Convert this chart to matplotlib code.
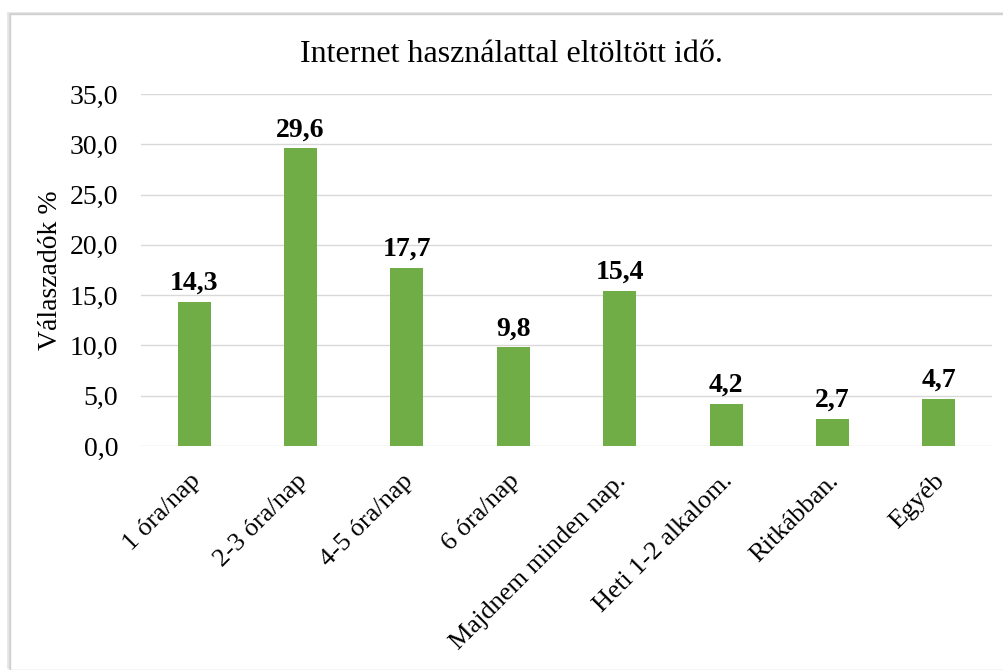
import matplotlib
matplotlib.use("Agg")
import matplotlib.pyplot as plt
from matplotlib.patches import Rectangle
from matplotlib.transforms import ScaledTranslation

categories = ["1 óra/nap", "2-3 óra/nap", "4-5 óra/nap", "6 óra/nap",
              "Majdnem minden nap.", "Heti 1-2 alkalom.", "Ritkábban.", "Egyéb"]
values = [14.3, 29.6, 17.7, 9.8, 15.4, 4.2, 2.7, 4.7]
title = "Internet használattal eltöltött idő."
ylabel = "Válaszadók %"
yticks = [0, 5, 10, 15, 20, 25, 30, 35]

plt.rcParams['font.family'] = ['Liberation Serif', 'DejaVu Serif']

fig = plt.figure(figsize=(10.04, 6.7), dpi=100)
# outer border with shadow
for i, a in enumerate([0.10, 0.07, 0.04]):
    fig.patches.append(Rectangle((8/1004 + i*0.002, 2/670), 1.0, 655/670 - i*0.002,
                                 transform=fig.transFigure, fill=False,
                                 edgecolor=(0, 0, 0, a), linewidth=2, zorder=-3))
fig.patches.append(Rectangle((10/1004, 0), 1.0, 656/670, transform=fig.transFigure,
                             facecolor='white', edgecolor='#d0d0d0', linewidth=1, zorder=-2))

ax = fig.add_axes([141/1004, 1 - 446/670, (992 - 141)/1004, (446 - 94)/670])
ax.set_zorder(1)
ax.patch.set_alpha(0)
x = range(len(categories))
ax.bar(x, values, width=0.31, color='#70AD47', zorder=3)
ax.set_xlim(-0.5, len(categories) - 0.5)
ax.set_ylim(0, 35)
ax.set_yticks(yticks)
ax.set_yticklabels([f"{v:.1f}".replace('.', ',') for v in yticks], fontsize=20)
ax.set_xticks(list(x))
ax.set_xticklabels(categories, rotation=45, ha='right', rotation_mode='anchor', fontsize=19)
ax.tick_params(axis='both', length=0, colors='#000000')
ax.tick_params(axis='y', pad=16.5)
ax.tick_params(axis='x', pad=17)
off = ScaledTranslation(-5/100, 0, fig.dpi_scale_trans)
for lab in ax.get_xticklabels():
    lab.set_transform(lab.get_transform() + off)
ax.grid(axis='y', color='#d9d9d9', linewidth=1, zorder=0)
for s in ax.spines.values():
    s.set_visible(False)
for xi, v in zip(x, values):
    ax.text(xi, v + 0.6, f"{v:.1f}".replace('.', ','), ha='center', va='bottom',
            fontsize=20, fontweight='bold')
ax.set_ylabel(ylabel, fontsize=20)
ax.yaxis.set_label_coords((63 - 141) / 851, 0.5)
fig.text(511/1004, 1 - 55/670, title, ha='center', va='center', fontsize=23, zorder=2)
fig.savefig("out.png", dpi=100, facecolor='white')
